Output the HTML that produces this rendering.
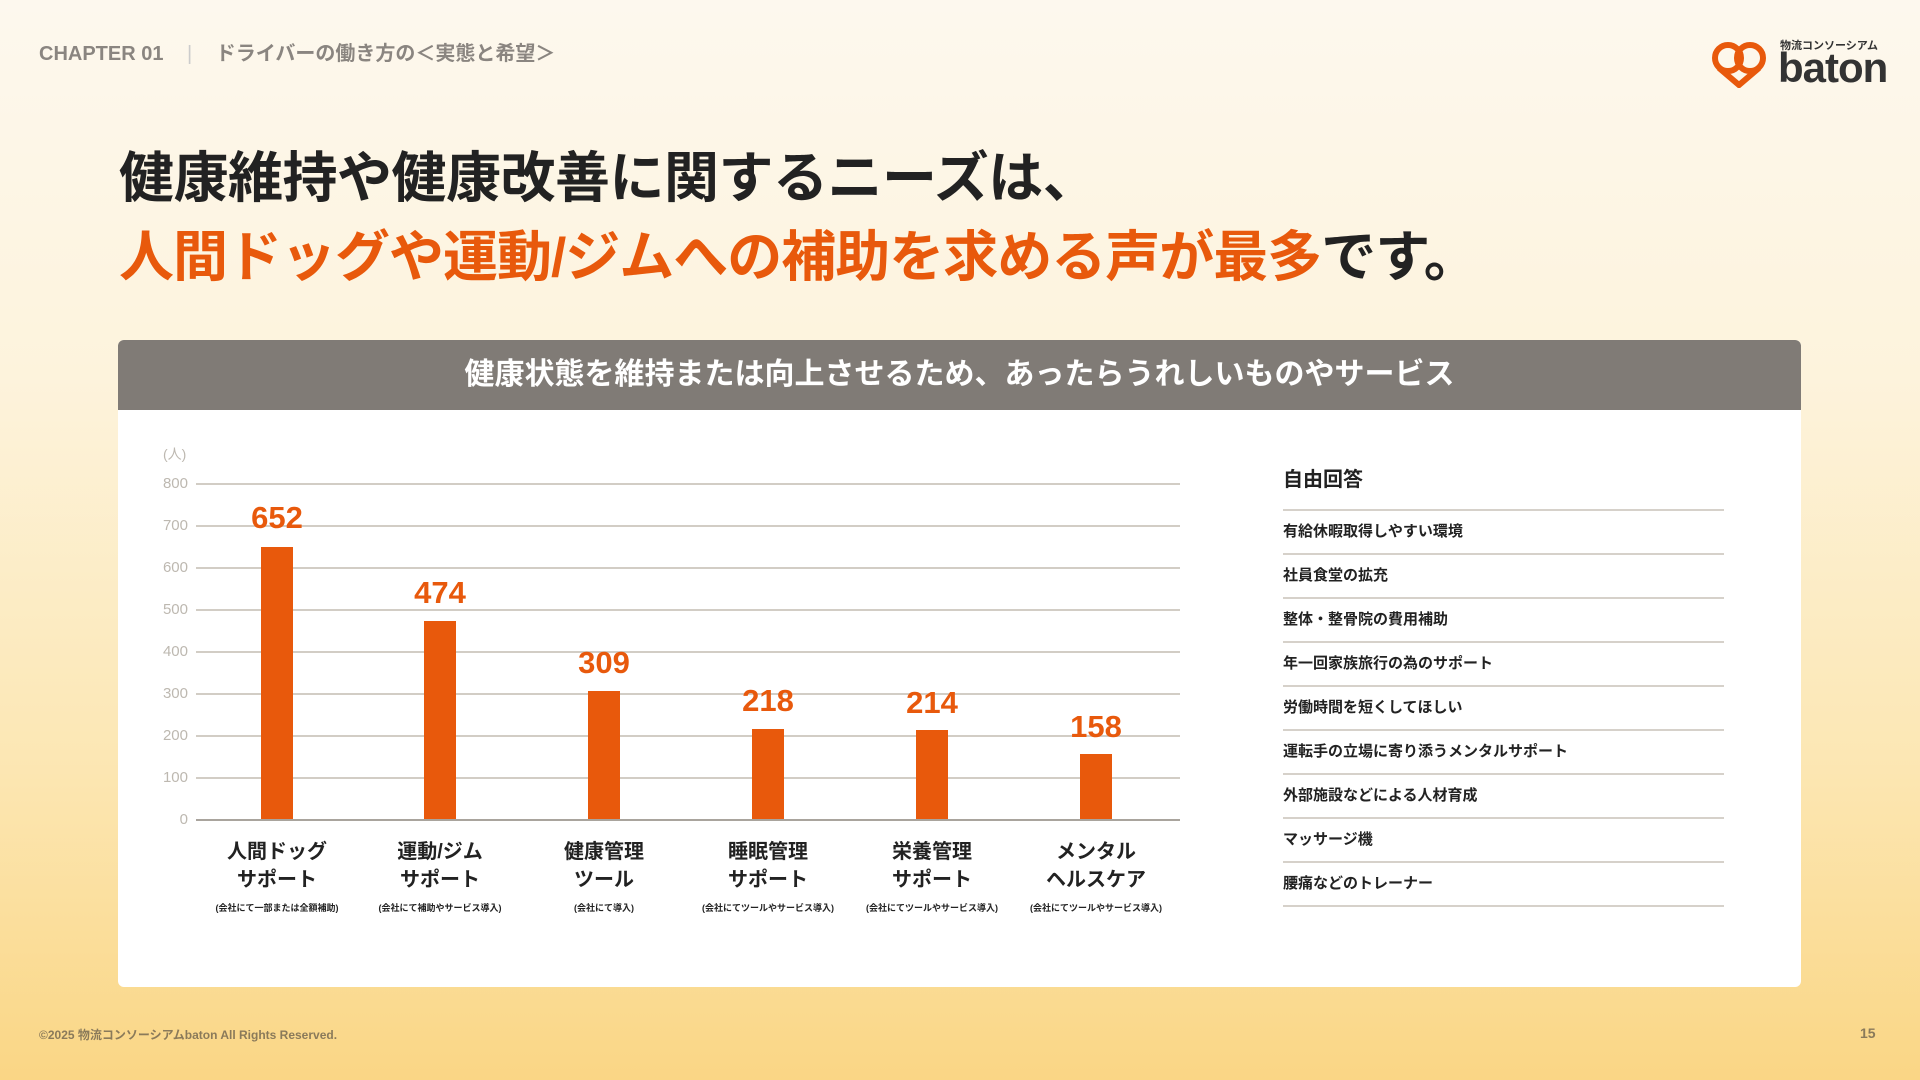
<!DOCTYPE html>
<html><head><meta charset="utf-8"><style>
*{margin:0;padding:0;box-sizing:border-box}
body{width:1920px;height:1080px;overflow:hidden;position:relative;font-family:"Liberation Sans","Noto Sans CJK JP",sans-serif;font-weight:bold;background:linear-gradient(180deg,#fdf8ee 0%,#fdf3dc 35%,#fce7b4 70%,#fad685 100%);}
.a{position:absolute;white-space:nowrap}
.card{position:absolute;left:118px;top:340px;width:1683px;height:647px;background:#fff;border-radius:6px;overflow:hidden}
.hd{height:70px;background:#807b76;color:#fff;font-size:30px;text-align:center;line-height:70px}
.or{color:#e8590c}
.grid{position:absolute;left:196px;width:984px;height:2px;background:#d2cdc5}
.yl{position:absolute;left:140px;width:48px;text-align:right;font-size:15px;color:#bdb8b0;font-weight:normal}
.bar{position:absolute;width:32px;background:#e8590c}
.val{position:absolute;width:120px;text-align:center;font-size:31px;color:#e8590c}
.cat{position:absolute;width:170px;text-align:center;font-size:20px;color:#222;line-height:28px}
.note{position:absolute;width:170px;text-align:center;font-size:9px;color:#222}
.li{position:absolute;left:1283px;width:441px;height:44px;border-top:2px solid #d6d1ca;font-size:15px;color:#222;line-height:42px}
</style></head><body>
<div class="a" style="left:39px;top:37px;font-size:20px;color:#8a8580">CHAPTER 01 <span style="color:#ccc;margin:0 18px;font-weight:normal">|</span> ドライバーの働き方の＜実態と希望＞</div>
<div class="a" style="left:1711px;top:38px;width:56px;height:50px">
<svg width="56" height="50" viewBox="0 0 56 50"><g fill="none" stroke="#e8590c" stroke-width="6"><circle cx="17" cy="20" r="13"/><circle cx="39" cy="20" r="13"/><path d="M8 30 L28 47 L48 30"/></g></svg></div>
<div class="a" style="left:1780px;top:37px;font-size:11px;color:#333">物流コンソーシアム</div>
<div class="a" style="left:1778px;top:44px;font-size:42px;color:#333;letter-spacing:-1px">baton</div>
<div class="a" style="left:119px;top:133px;font-size:55px;color:#222;letter-spacing:-0.5px">健康維持や健康改善に関するニーズは、</div>
<div class="a" style="left:119px;top:212px;font-size:55px;color:#222;letter-spacing:-1px"><span class="or">人間ドッグや運動/ジムへの補助を求める声が最多</span>です。</div>
<div class="card"><div class="hd">健康状態を維持または向上させるため、あったらうれしいものやサービス</div></div>
<div class="a" style="left:163px;top:444px;font-size:14px;color:#bdb8b0;font-weight:normal">(人)</div>
<div class="grid" style="top:483px"></div><div class="yl" style="top:475px">800</div>
<div class="grid" style="top:525px"></div><div class="yl" style="top:517px">700</div>
<div class="grid" style="top:567px"></div><div class="yl" style="top:559px">600</div>
<div class="grid" style="top:609px"></div><div class="yl" style="top:601px">500</div>
<div class="grid" style="top:651px"></div><div class="yl" style="top:643px">400</div>
<div class="grid" style="top:693px"></div><div class="yl" style="top:685px">300</div>
<div class="grid" style="top:735px"></div><div class="yl" style="top:727px">200</div>
<div class="grid" style="top:777px"></div><div class="yl" style="top:769px">100</div>
<div class="bar" style="left:261px;top:547px;height:273px"></div><div class="val" style="left:217px;top:500px">652</div>
<div class="bar" style="left:424px;top:621px;height:199px"></div><div class="val" style="left:380px;top:575px">474</div>
<div class="bar" style="left:588px;top:691px;height:129px"></div><div class="val" style="left:544px;top:645px">309</div>
<div class="bar" style="left:752px;top:729px;height:91px"></div><div class="val" style="left:708px;top:683px">218</div>
<div class="bar" style="left:916px;top:730px;height:90px"></div><div class="val" style="left:872px;top:685px">214</div>
<div class="bar" style="left:1080px;top:754px;height:66px"></div><div class="val" style="left:1036px;top:709px">158</div>
<div class="grid" style="top:819px;background:#a9a49d"></div><div class="yl" style="top:811px">0</div>
<div class="cat" style="left:192px;top:838px">人間ドッグ<br>サポート</div><div class="note" style="left:192px;top:901px">(会社にて一部または全額補助)</div>
<div class="cat" style="left:355px;top:838px">運動/ジム<br>サポート</div><div class="note" style="left:355px;top:901px">(会社にて補助やサービス導入)</div>
<div class="cat" style="left:519px;top:838px">健康管理<br>ツール</div><div class="note" style="left:519px;top:901px">(会社にて導入)</div>
<div class="cat" style="left:683px;top:838px">睡眠管理<br>サポート</div><div class="note" style="left:683px;top:901px">(会社にてツールやサービス導入)</div>
<div class="cat" style="left:847px;top:838px">栄養管理<br>サポート</div><div class="note" style="left:847px;top:901px">(会社にてツールやサービス導入)</div>
<div class="cat" style="left:1011px;top:838px">メンタル<br>ヘルスケア</div><div class="note" style="left:1011px;top:901px">(会社にてツールやサービス導入)</div>
<div class="a" style="left:1283px;top:463px;font-size:20px;color:#222">自由回答</div>
<div class="li" style="top:509px">有給休暇取得しやすい環境</div>
<div class="li" style="top:553px">社員食堂の拡充</div>
<div class="li" style="top:597px">整体・整骨院の費用補助</div>
<div class="li" style="top:641px">年一回家族旅行の為のサポート</div>
<div class="li" style="top:685px">労働時間を短くしてほしい</div>
<div class="li" style="top:729px">運転手の立場に寄り添うメンタルサポート</div>
<div class="li" style="top:773px">外部施設などによる人材育成</div>
<div class="li" style="top:817px">マッサージ機</div>
<div class="li" style="top:861px">腰痛などのトレーナー</div>
<div class="a" style="left:1283px;top:905px;width:441px;height:2px;background:#d6d1ca"></div>
<div class="a" style="left:39px;top:1026px;font-size:12px;color:#8a7a5a">©2025 物流コンソーシアムbaton All Rights Reserved.</div>
<div class="a" style="left:1860px;top:1025px;font-size:14px;color:#8a7a5a">15</div>
</body></html>
